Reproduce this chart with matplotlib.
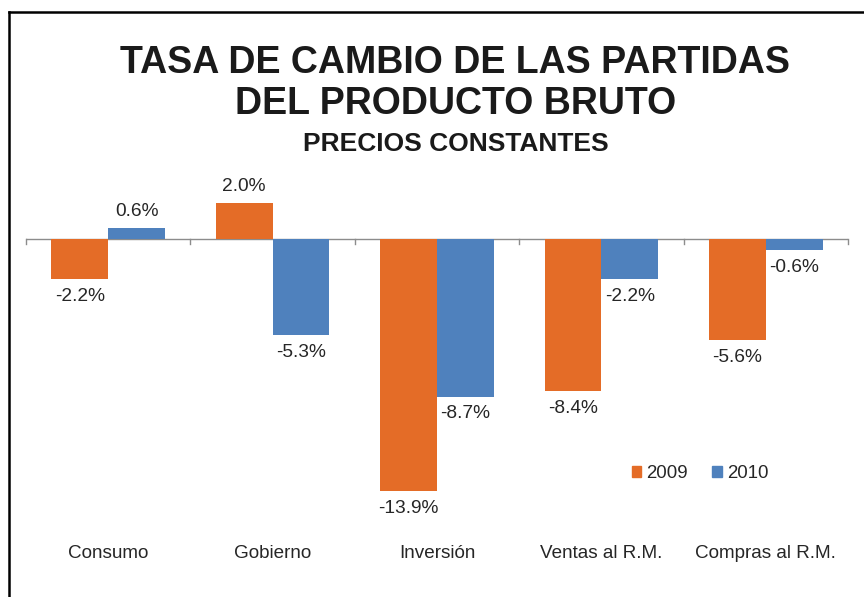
import numpy as np
import matplotlib.pyplot as plt
from matplotlib.lines import Line2D
from matplotlib.patches import Patch

# Tasa de cambio de las partidas del producto bruto (precios constantes)
categorias = ["Consumo", "Gobierno", "Inversión", "Ventas al R.M.", "Compras al R.M."]
v2009 = [-2.2, 2.0, -13.9, -8.4, -5.6]
v2010 = [0.6, -5.3, -8.7, -2.2, -0.6]

naranja = "#E46C27"
azul = "#4F81BD"

plt.rcParams['font.family'] = ['Liberation Sans', 'DejaVu Sans']

fig = plt.figure(figsize=(8.64, 5.97), dpi=100)
ax = fig.add_axes([0.0301, 0.1122, 0.9514, 0.5863])

x = np.arange(len(categorias))
w = 0.345
b1 = ax.bar(x - w / 2, v2009, w, color=naranja, label="2009")
b2 = ax.bar(x + w / 2, v2010, w, color=azul, label="2010")

# data labels: above positive bars, below negative bars
for bars in (b1, b2):
    for rect in bars:
        h = rect.get_height()
        xc = rect.get_x() + rect.get_width() / 2
        off = 0.9 if h >= 0 else -0.95
        ax.text(xc, h + off, "%.1f%%" % h, ha='center', va='center',
                fontsize=13.8, color='#262626')

ax.set_xlim(-0.5, len(categorias) - 0.5)
ax.set_ylim(-16.05, 3.25)
ax.axis('off')

# horizontal axis at zero with tick marks between categories
ax.axhline(0, color='#8c8c8c', lw=1.0, zorder=0)
for xb in np.arange(-0.5, len(categorias), 1.0):
    ax.plot([xb, xb], [0, -0.3], color='#8c8c8c', lw=1.0, clip_on=False)

for i, c in enumerate(categorias):
    ax.text(i, -17.35, c, ha='center', va='center', fontsize=13.6,
            color='#262626', clip_on=False)

handles = [Patch(color=naranja, label="2009"), Patch(color=azul, label="2010")]
leg = ax.legend(handles=handles, loc='center', bbox_to_anchor=(0.82, 0.162),
                ncol=2, frameon=False, fontsize=13.4, handlelength=0.5,
                handleheight=0.5, handletextpad=0.3, columnspacing=1.3)
for t in leg.get_texts():
    t.set_color('#262626')

# titles
fig.text(0.527, 1 - 63 / 597, "TASA DE CAMBIO DE LAS PARTIDAS", ha='center',
         va='center', fontsize=27, fontweight='bold', color='#1a1a1a')
fig.text(0.527, 1 - 104 / 597, "DEL PRODUCTO BRUTO", ha='center',
         va='center', fontsize=27, fontweight='bold', color='#1a1a1a')
fig.text(0.527, 1 - 144 / 597, "PRECIOS CONSTANTES", ha='center',
         va='center', fontsize=19, fontweight='bold', color='#1a1a1a')

# frame around the chart (left and top edges visible)
fig.add_artist(Line2D([8.5 / 864, 8.5 / 864], [0, 1 - 12 / 597],
                      color='black', lw=1.8, transform=fig.transFigure))
fig.add_artist(Line2D([8.5 / 864, 1], [1 - 12 / 597, 1 - 12 / 597],
                      color='black', lw=1.8, transform=fig.transFigure))

plt.savefig("out.png", dpi=100)
